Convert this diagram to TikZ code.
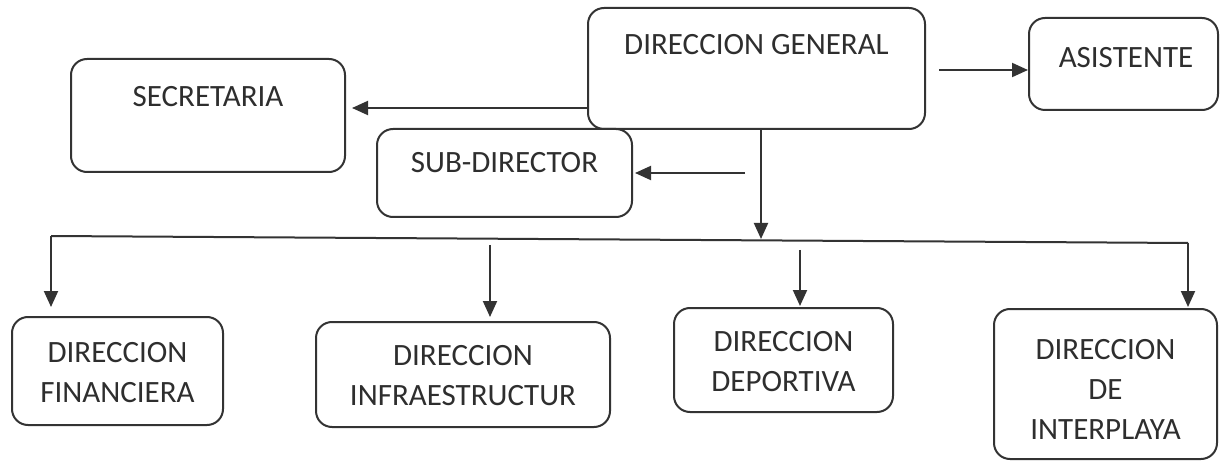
\documentclass[tikz,border=0pt]{standalone}
\usepackage{fontspec}
\setmainfont{Carlito}
\usetikzlibrary{arrows.meta}
\definecolor{ink}{HTML}{333333}
\definecolor{txt}{HTML}{2E2E2E}
\begin{document}
\begin{tikzpicture}[x=1pt,y=-1pt,
  box/.style={draw=ink, line width=2pt, rounded corners=16pt, inner sep=0pt},
  lbl/.style={text=txt, font=\fontsize{31}{40}\selectfont, align=center, inner sep=0pt},
  conn/.style={draw=ink, line width=2pt},
  arr/.style={conn, -{Triangle[length=16pt,width=14pt]}}]
\useasboundingbox (0,0) rectangle (1220,462);
% boxes
\node[box, minimum width=337pt, minimum height=121pt] (dg)    at (756.5,68.5) {};
\node[box, minimum width=189pt, minimum height=92pt]  (asis)  at (1123.5,64) {};
\node[box, minimum width=274pt, minimum height=113pt] (sec)   at (208,115.5) {};
\node[box, minimum width=255pt, minimum height=88pt]  (sub)   at (504.5,173) {};
\node[box, minimum width=211pt, minimum height=108pt] (fin)   at (117.5,371) {};
\node[box, minimum width=294pt, minimum height=105pt] (infra) at (463,374.5) {};
\node[box, minimum width=219pt, minimum height=104pt] (dep)   at (783.5,360) {};
\node[box, minimum width=223pt, minimum height=150pt] (inter) at (1105.5,384) {};
% labels
\node[lbl] (dgt)    at (756.5,45)  {DIRECCION GENERAL};
\node[lbl] (asist)  at (1126,58)   {ASISTENTE};
\node[lbl] (sect)   at (208,97)    {SECRETARIA};
\node[lbl] (subt)   at (504.5,163) {SUB-DIRECTOR};
\node[lbl] (fint)   at (117.5,373) {DIRECCION\\FINANCIERA};
\node[lbl] (infrat) at (463,376)   {DIRECCION\\INFRAESTRUCTUR};
\node[lbl] (dept)   at (783.5,362) {DIRECCION\\DEPORTIVA};
\node[lbl] (intert) at (1105.5,389) {DIRECCION\\DE\\INTERPLAYA};
% connectors
\coordinate (a1) at (939,70);
\draw[arr] (a1) -- (a1 -| asis.west);
\coordinate (s1) at (588,108);
\draw[arr, shorten >=6pt] (s1 -| dg.west) -- (s1 -| sec.east);
\coordinate (v1) at (761,129);
\coordinate (bm) at (761,239);
\draw[arr] (v1 |- dg.south) -- (bm);
\coordinate (d1) at (745,173);
\draw[arr, shorten >=2pt] (d1) -- (d1 -| sub.east);
\coordinate (bl) at (51,236);
\coordinate (br) at (1188,243);
\draw[conn] (bl) -- (br);
\draw[arr, shorten >=9pt] (bl) -- (bl |- fin.north);
\draw[arr, shorten >=1pt] (br) -- (br |- inter.north);
\coordinate (m1) at (490,245);
\draw[arr, shorten >=4pt] (m1) -- (m1 |- infra.north);
\coordinate (m2) at (800,250);
\draw[arr, shorten >=1pt] (m2) -- (m2 |- dep.north);
\end{tikzpicture}
\end{document}
